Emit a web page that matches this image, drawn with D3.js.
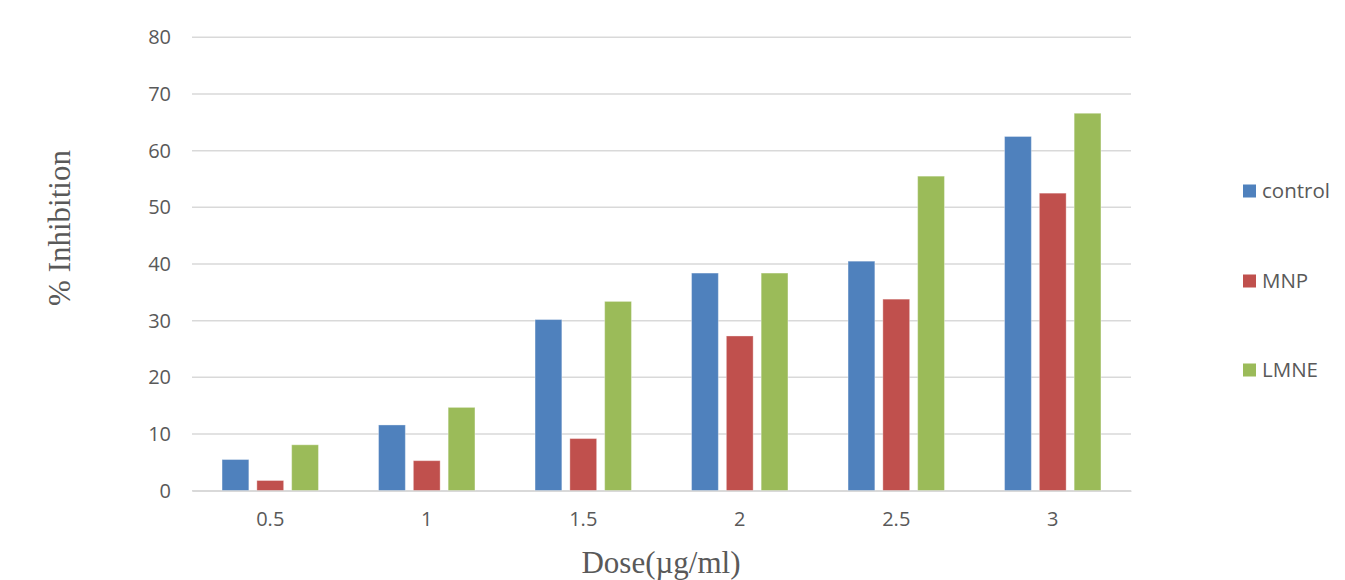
<!DOCTYPE html>
<html>
<head>
<meta charset="utf-8">
<style>
  body { margin: 0; background: #fff; }
  svg text { fill: #595959; }
</style>
<script src="https://d3js.org/d3.v7.min.js"></script>
</head>
<body>
<script>
// data
const doses = ["0.5", "1", "1.5", "2", "2.5", "3"];
const seriesNames = ["control", "MNP", "LMNE"];
const control = [5.5, 11.6, 30.2, 38.4, 40.5, 62.5];
const mnp = [1.8, 5.3, 9.2, 27.3, 33.8, 52.5];
const lmne = [8.1, 14.7, 33.4, 38.4, 55.5, 66.6];
const yTicks = [0, 10, 20, 30, 40, 50, 60, 70, 80];
const colors = ["#4f81bd", "#c0504d", "#9bbb59"];

const w = 1345, h = 580;
const plotLeft = 192, plotRight = 1131, plotTop = 37.3, plotBottom = 490.7;

const svg = d3.select("body").append("svg")
  .attr("width", w).attr("height", h);

const allSeries = [control, mnp, lmne];
const rows = doses.map((d, i) => ({
  dose: d,
  vals: seriesNames.map((s, j) => ({ name: s, value: allSeries[j][i], color: colors[j] }))
}));

const x0 = d3.scaleBand().domain(doses).range([plotLeft, plotRight])
  .paddingInner(0.384).paddingOuter(0.192);
const x1 = d3.scaleBand().domain(seriesNames).range([0, x0.bandwidth()])
  .paddingInner(0.23).paddingOuter(0);
const y = d3.scaleLinear().domain([0, 80]).range([plotBottom, plotTop]);

// gridlines
svg.append("g").selectAll("line")
  .data(yTicks)
  .enter().append("line")
  .attr("x1", plotLeft).attr("x2", plotRight)
  .attr("y1", d => y(d)).attr("y2", d => y(d))
  .attr("stroke", "#d9d9d9").attr("stroke-width", 1.5);

// y tick labels
const yAxis = svg.append("g")
  .attr("transform", `translate(${plotLeft - 21},0)`)
  .call(d3.axisLeft(y).tickValues(yTicks).tickSize(0).tickPadding(0));
yAxis.select(".domain").remove();
yAxis.selectAll("text")
  .attr("font-family", "Open Sans").attr("font-size", 20)
  .style("fill", "#595959");

// bars
const groups = svg.append("g").selectAll("g")
  .data(rows)
  .enter().append("g")
  .attr("transform", d => `translate(${x0(d.dose)},0)`);

groups.selectAll("rect")
  .data(d => d.vals)
  .enter().append("rect")
  .attr("x", d => x1(d.name))
  .attr("y", d => y(d.value))
  .attr("width", x1.bandwidth())
  .attr("height", d => y(0) - y(d.value))
  .attr("fill", d => d.color)
  .attr("stroke", "rgba(255,255,255,0.35)")
  .attr("stroke-width", 1);

// x axis
const xScaleFull = d3.scaleBand().domain(doses).range([plotLeft, plotRight]);
const xAxis = svg.append("g")
  .attr("transform", `translate(0,${plotBottom})`)
  .call(d3.axisBottom(xScaleFull).tickSize(0).tickPadding(21));
xAxis.select(".domain").attr("stroke", "#d9d9d9").attr("stroke-width", 1.5);
xAxis.selectAll("text")
  .attr("font-family", "Open Sans").attr("font-size", 20)
  .style("fill", "#595959");

// axis titles
svg.append("text")
  .attr("x", 661).attr("y", 573)
  .attr("text-anchor", "middle")
  .attr("font-family", "Liberation Serif").attr("font-size", 31)
  .text("Dose(\u00b5g/ml)");

svg.append("text")
  .attr("transform", "translate(70,228) rotate(-90)")
  .attr("text-anchor", "middle")
  .attr("font-family", "Liberation Serif").attr("font-size", 31)
  .text("% Inhibition");

// legend
const legendY = [191, 281, 370];
const legend = svg.append("g").selectAll("g")
  .data(seriesNames)
  .enter().append("g")
  .attr("transform", (d, i) => `translate(1243,${legendY[i]})`);
legend.append("rect")
  .attr("x", 0).attr("y", -6.5)
  .attr("width", 13).attr("height", 13)
  .attr("fill", (d, i) => colors[i]);
legend.append("text")
  .attr("x", 19).attr("y", 0).attr("dy", "0.35em")
  .attr("font-family", "Open Sans").attr("font-size", 20.5)
  .text(d => d);
</script>
</body>
</html>
